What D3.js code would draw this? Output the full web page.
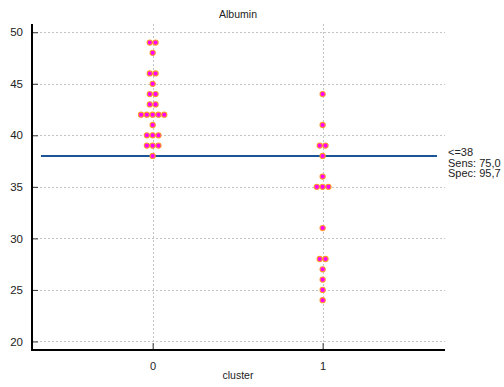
<!DOCTYPE html>
<html>
<head>
<meta charset="utf-8">
<script src="https://cdn.jsdelivr.net/npm/d3@7"></script>
<style>
  html, body { margin: 0; padding: 0; background: #fff; }
  svg { display: block; font-family: "Liberation Sans", Arial, sans-serif; }
</style>
</head>
<body>
<svg id="chart" width="504" height="387"></svg>
<script>
// Albumin by cluster
const title = "Albumin";
const xLabel = "cluster";
const categories = [0, 1];
const cluster0Values = [49, 49, 48, 46, 46, 45, 44, 44, 43, 43, 42, 42, 42, 42, 42, 41, 40, 40, 40, 39, 39, 39, 38];
const cluster1Values = [44, 41, 39, 39, 38, 36, 35, 35, 35, 31, 28, 28, 27, 26, 25, 24];
const yTicks = [20, 25, 30, 35, 40, 45, 50];
const cutoff = 38;
const cutoffLabels = ["<=38", "Sens: 75,0", "Spec: 95,7"];

const series = [cluster0Values, cluster1Values];

const svg = d3.select("#chart");
const plotLeft = 32, plotRight = 445, plotTop = 24, plotBottom = 350;

const x = d3.scaleLinear().domain([-0.71, 1.72]).range([plotLeft, plotRight]);
const y = d3.scaleLinear().domain([19.17, 50.8]).range([plotBottom, plotTop]);

// grid
const grid = svg.append("g").attr("stroke", "#c4c4c4").attr("stroke-width", 1)
  .attr("stroke-dasharray", "2,2");
grid.selectAll("line.h").data(yTicks).join("line")
  .attr("x1", plotLeft).attr("x2", plotRight)
  .attr("y1", d => Math.round(y(d)) + 0.5).attr("y2", d => Math.round(y(d)) + 0.5);
grid.selectAll("line.v").data(categories).join("line")
  .attr("y1", plotTop).attr("y2", plotBottom)
  .attr("x1", d => Math.round(x(d)) + 0.5).attr("x2", d => Math.round(x(d)) + 0.5);

// axes
const yAxis = d3.axisLeft(y).tickValues(yTicks).tickSizeInner(-6).tickSizeOuter(0).tickPadding(9);
const gy = svg.append("g").attr("transform", `translate(${plotLeft},0)`).call(yAxis);
gy.select(".domain").remove();
gy.selectAll(".tick line").attr("stroke", "#333");
gy.selectAll(".tick text").attr("font-size", 11.5).attr("fill", "#222")
  .attr("font-family", "Liberation Sans, Arial, sans-serif");

const xAxis = d3.axisBottom(x).tickValues(categories).tickFormat(d3.format("d"))
  .tickSizeInner(-7).tickSizeOuter(0).tickPadding(12);
const gx = svg.append("g").attr("transform", `translate(0,${plotBottom})`).call(xAxis);
gx.select(".domain").remove();
gx.selectAll(".tick line").attr("stroke", "#333");
gx.selectAll(".tick text").attr("font-size", 11).attr("fill", "#222")
  .attr("font-family", "Liberation Sans, Arial, sans-serif");

svg.append("line").attr("x1", plotLeft).attr("x2", plotLeft).attr("y1", plotTop).attr("y2", plotBottom + 1)
  .attr("stroke", "#000").attr("stroke-width", 2);
svg.append("line").attr("x1", plotLeft - 1).attr("x2", plotRight).attr("y1", plotBottom).attr("y2", plotBottom)
  .attr("stroke", "#000").attr("stroke-width", 2);

// cutoff line
svg.append("line").attr("x1", 41).attr("x2", 437)
  .attr("y1", y(cutoff)).attr("y2", y(cutoff))
  .attr("stroke", "#1a5597").attr("stroke-width", 2);

// dots, equal values spread side by side
const spacing = 5.8;
const dots = [];
series.forEach((vals, i) => {
  const groups = d3.group(vals, v => v);
  groups.forEach((arr, v) => {
    arr.forEach((_, k) => {
      dots.push({ cat: categories[i], value: v, offset: (k - (arr.length - 1) / 2) * spacing });
    });
  });
});
svg.append("g").selectAll("circle").data(dots).join("circle")
  .attr("cx", d => x(d.cat) + d.offset)
  .attr("cy", d => y(d.value))
  .attr("r", 2.6)
  .attr("fill", "#ff00ff")
  .attr("stroke", "#ff9a2a")
  .attr("stroke-width", 1.1);

// labels
svg.append("text").attr("x", 238).attr("y", 18).attr("text-anchor", "middle")
  .attr("font-size", 10.5).attr("fill", "#222").text(title);
svg.append("text").attr("x", 238).attr("y", 379).attr("text-anchor", "middle")
  .attr("font-size", 10.5).attr("fill", "#222").text(xLabel);
svg.append("g").selectAll("text").data(cutoffLabels).join("text")
  .attr("x", 448).attr("y", (d, i) => 156 + i * 10.6)
  .attr("font-size", 11).attr("fill", "#222").text(d => d);
</script>
</body>
</html>
